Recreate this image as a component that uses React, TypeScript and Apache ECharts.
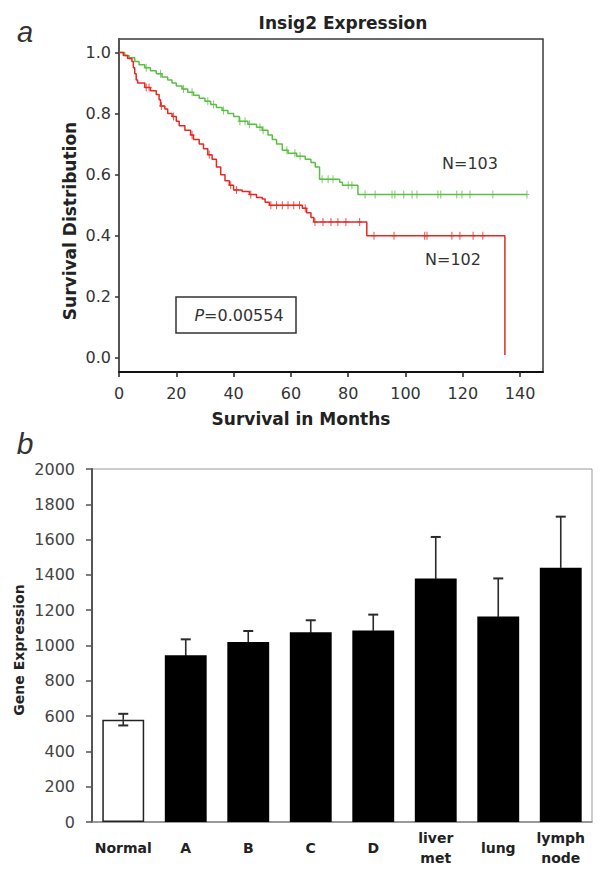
import React, { useEffect, useRef } from "react";
import * as echarts from "echarts";

// ---- Panel a: Kaplan-Meier survival (Insig2 expression) ----
const redSteps: [number, number][] = [
  [0, 1.0], [1.5, 0.99], [3, 0.98], [4.5, 0.97], [5, 0.95], [5.5, 0.93], [6, 0.91], [6.5, 0.9],
  [9, 0.885], [11, 0.875], [13, 0.862], [14, 0.845], [14.5, 0.825], [16, 0.815], [17, 0.8],
  [18.5, 0.79], [20, 0.775], [21, 0.76], [23, 0.745], [25, 0.73], [26, 0.715], [28, 0.7],
  [29.5, 0.685], [31, 0.665], [32.5, 0.65], [34, 0.625], [35.5, 0.6], [37, 0.58], [38.5, 0.565],
  [40, 0.55], [43, 0.545], [45.5, 0.535], [48, 0.525], [50, 0.52], [51, 0.51], [52.5, 0.5],
  [64, 0.49], [65.5, 0.475], [67, 0.46], [68, 0.445], [86.5, 0.4], [134.7, 0.01],
];
const redCensored: [number, number][] = [
  [9.5, 0.885], [10.5, 0.885], [14.8, 0.825], [19, 0.79], [25.5, 0.73], [31.5, 0.665], [39, 0.565],
  [41, 0.55], [46, 0.535], [53, 0.5], [55, 0.5], [57, 0.5], [59, 0.5], [61, 0.5], [63, 0.5],
  [65, 0.49], [68.4, 0.445], [71.2, 0.445], [74, 0.445], [76.4, 0.445], [79.2, 0.445], [84, 0.445],
  [89, 0.4], [96, 0.4], [106.7, 0.4], [107.5, 0.4], [116.2, 0.4], [119, 0.4], [123.6, 0.4], [127, 0.4],
];
const greenSteps: [number, number][] = [
  [0, 1.0], [2, 0.99], [3.5, 0.983], [5.5, 0.97], [7, 0.96], [9, 0.95], [11, 0.94], [13, 0.93],
  [15, 0.92], [17, 0.91], [18.5, 0.9], [20, 0.89], [22, 0.88], [24, 0.87], [26, 0.86], [28, 0.85],
  [30, 0.84], [32, 0.83], [34, 0.82], [36, 0.81], [38, 0.8], [40, 0.79], [42, 0.775], [45, 0.765],
  [48, 0.755], [50, 0.745], [52, 0.73], [53.5, 0.715], [55, 0.7], [57, 0.68], [59, 0.67], [62, 0.66],
  [65, 0.65], [67, 0.64], [68.5, 0.625], [70, 0.585], [77, 0.575], [78, 0.565], [83.4, 0.535],
  [142.4, 0.535],
];
const greenCensored: [number, number][] = [
  [9.5, 0.95], [14.5, 0.93], [22.5, 0.88], [25.5, 0.87], [31, 0.84], [33, 0.83], [36.5, 0.81],
  [42.2, 0.775], [44, 0.775], [45.5, 0.765], [49.2, 0.755], [50.3, 0.745], [58.6, 0.68], [61.4, 0.67],
  [63.2, 0.66], [70.9, 0.585], [73, 0.585], [74.7, 0.585], [80, 0.565], [81.3, 0.565], [85.9, 0.535],
  [89.4, 0.535], [95.3, 0.535], [96.3, 0.535], [99.4, 0.535], [102.3, 0.535], [104, 0.535],
  [111.3, 0.535], [112.3, 0.535], [117.9, 0.535], [119.7, 0.535], [122.5, 0.535], [130.5, 0.535],
  [142.4, 0.535],
];
const survivalTicks = [0, 0.2, 0.4, 0.6, 0.8, 1.0];
const monthTicks = [0, 20, 40, 60, 80, 100, 120, 140];

// ---- Panel b: gene expression bars ----
const categories = ["Normal", "A", "B", "C", "D", "liver\nmet", "lung", "lymph\nnode"];
const expression = [580, 945, 1020, 1075, 1085, 1380, 1165, 1440];
const expressionErr = [33, 90, 62, 68, 90, 235, 215, 290];

const RED = "#e8271f";
const GREEN = "#5cbf45";
const PLUS = "path://M2,0h1v8h-1zM0,3.5h5v1h-5z";

export default function App() {
  const ref = useRef<HTMLDivElement>(null);
  useEffect(() => {
    document.body.style.margin = "0";
    const chart = echarts.init(ref.current!, null, { renderer: "svg" });
    const tickFont = { fontFamily: "DejaVu Sans", fontSize: 16, color: "#333" };
    const option: any = {
      animation: false,
      backgroundColor: "#fff",
      grid: [
        { left: 119, top: 39, width: 424, height: 333, show: true, borderColor: "#3a3a3a", borderWidth: 1.5 },
        { left: 92, top: 469, width: 500, height: 353, show: true, borderColor: "#9a9a9a", borderWidth: 1 },
      ],
      xAxis: [
        {
          gridIndex: 0, type: "value", min: 0, max: 148,
          axisLine: { show: true, onZero: false, lineStyle: { color: "#111", width: 2 } },
          axisTick: { show: true, length: 5, customValues: monthTicks, lineStyle: { color: "#222", width: 1.5 } },
          axisLabel: { customValues: monthTicks, margin: 13, ...tickFont },
          splitLine: { show: false },
        },
        {
          gridIndex: 1, type: "category", data: categories,
          axisLine: { show: true, lineStyle: { color: "#888", width: 1.5 } },
          axisTick: { show: false },
          axisLabel: {
            interval: 0, margin: 26, verticalAlign: "middle", lineHeight: 20,
            fontFamily: "DejaVu Sans", fontWeight: "bold", fontSize: 14, color: "#222",
          },
        },
      ],
      yAxis: [
        {
          gridIndex: 0, type: "value", min: -0.046, max: 1.044,
          axisLine: { show: true, onZero: false, lineStyle: { color: "#555", width: 2 } },
          axisTick: { show: true, length: 4, customValues: survivalTicks, lineStyle: { color: "#333", width: 1.5 } },
          axisLabel: { customValues: survivalTicks, margin: 8, formatter: (v: number) => v.toFixed(1), ...tickFont },
          splitLine: { show: false },
        },
        {
          gridIndex: 1, type: "value", min: 0, max: 2000, interval: 200,
          axisLine: { show: true, lineStyle: { color: "#555", width: 2 } },
          axisTick: { show: true, length: 6, lineStyle: { color: "#555", width: 1.5 } },
          axisLabel: { margin: 17, formatter: (v: number) => String(v), ...tickFont, color: "#444" },
          splitLine: { show: false },
        },
      ],
      series: [
        {
          type: "line", xAxisIndex: 0, yAxisIndex: 0, data: greenSteps, step: "end",
          showSymbol: false, lineStyle: { color: GREEN, width: 1.5 }, z: 3,
        },
        {
          type: "line", xAxisIndex: 0, yAxisIndex: 0, data: redSteps, step: "end",
          showSymbol: false, lineStyle: { color: RED, width: 1.5 }, z: 3,
        },
        {
          type: "scatter", xAxisIndex: 0, yAxisIndex: 0, data: greenCensored,
          symbol: PLUS, symbolSize: [5, 8], itemStyle: { color: GREEN }, z: 4,
        },
        {
          type: "scatter", xAxisIndex: 0, yAxisIndex: 0, data: redCensored,
          symbol: PLUS, symbolSize: [5, 8], itemStyle: { color: RED }, z: 4,
        },
        {
          type: "bar", xAxisIndex: 1, yAxisIndex: 1, barWidth: "67%",
          data: expression.map((v, i) => ({
            value: v,
            itemStyle: i === 0
              ? { color: "#fff", borderColor: "#222", borderWidth: 1.5 }
              : { color: "#000" },
          })),
          z: 2,
        },
        {
          type: "custom", xAxisIndex: 1, yAxisIndex: 1,
          data: expression.map((v, i) => [i, v, expressionErr[i]]),
          renderItem: (_p: any, api: any) => {
            const i = api.value(0);
            const v = api.value(1);
            const e = api.value(2);
            const top = api.coord([i, v + e]);
            const mid = api.coord([i, v]);
            const bot = api.coord([i, v - e]);
            const hw = 5;
            const up = { stroke: "#2a2a2a", lineWidth: 1.6 };
            const down = { stroke: i === 0 ? "#2a2a2a" : "#000", lineWidth: 1.6 };
            return {
              type: "group",
              children: [
                { type: "line", shape: { x1: top[0], y1: top[1], x2: mid[0], y2: mid[1] }, style: up },
                { type: "line", shape: { x1: mid[0], y1: mid[1], x2: bot[0], y2: bot[1] }, style: down },
                { type: "line", shape: { x1: top[0] - hw, y1: top[1], x2: top[0] + hw, y2: top[1] }, style: { ...up, lineWidth: 2 } },
                { type: "line", shape: { x1: bot[0] - hw, y1: bot[1], x2: bot[0] + hw, y2: bot[1] }, style: { ...down, lineWidth: 2 } },
              ],
            };
          },
          z: 5,
        },
      ],
      graphic: [
        { type: "text", x: 25, y: 32, style: { text: "a", font: "italic 29px 'Liberation Sans'", fill: "#333", textAlign: "center", textVerticalAlign: "middle" } },
        { type: "text", x: 25, y: 443, style: { text: "b", font: "italic 30px 'Liberation Sans'", fill: "#333", textAlign: "center", textVerticalAlign: "middle" } },
        { type: "text", x: 343, y: 23, style: { text: "Insig2 Expression", font: "bold 17px 'DejaVu Sans'", fill: "#222", textAlign: "center", textVerticalAlign: "middle" } },
        { type: "text", x: 70, y: 221, rotation: Math.PI / 2, style: { text: "Survival Distribution", font: "bold 17px 'DejaVu Sans'", fill: "#222", textAlign: "center", textVerticalAlign: "middle" } },
        { type: "text", x: 301, y: 419, style: { text: "Survival in Months", font: "bold 17px 'DejaVu Sans'", fill: "#222", textAlign: "center", textVerticalAlign: "middle" } },
        { type: "text", x: 19, y: 650, rotation: Math.PI / 2, style: { text: "Gene Expression", font: "bold 14px 'DejaVu Sans'", fill: "#222", textAlign: "center", textVerticalAlign: "middle" } },
        { type: "text", x: 470, y: 163, style: { text: "N=103", font: "16px 'DejaVu Sans'", fill: "#333", textAlign: "center", textVerticalAlign: "middle" } },
        { type: "text", x: 453, y: 259, style: { text: "N=102", font: "16px 'DejaVu Sans'", fill: "#333", textAlign: "center", textVerticalAlign: "middle" } },
        { type: "rect", shape: { x: 176, y: 297, width: 120, height: 36 }, style: { fill: "#fff", stroke: "#333", lineWidth: 1.5 }, z: 10 },
        {
          type: "text", x: 239, y: 315, z: 11,
          style: {
            text: "{i|P}=0.00554", textAlign: "center", textVerticalAlign: "middle",
            font: "16px 'DejaVu Sans'", fill: "#333",
            rich: { i: { fontStyle: "italic", fontFamily: "DejaVu Sans", fontSize: 16, fill: "#333" } },
          },
        },
      ],
    };
    chart.setOption(option);
    return () => chart.dispose();
  }, []);
  return <div ref={ref} style={{ position: "fixed", left: 0, top: 0, width: 601, height: 877 }} />;
}
